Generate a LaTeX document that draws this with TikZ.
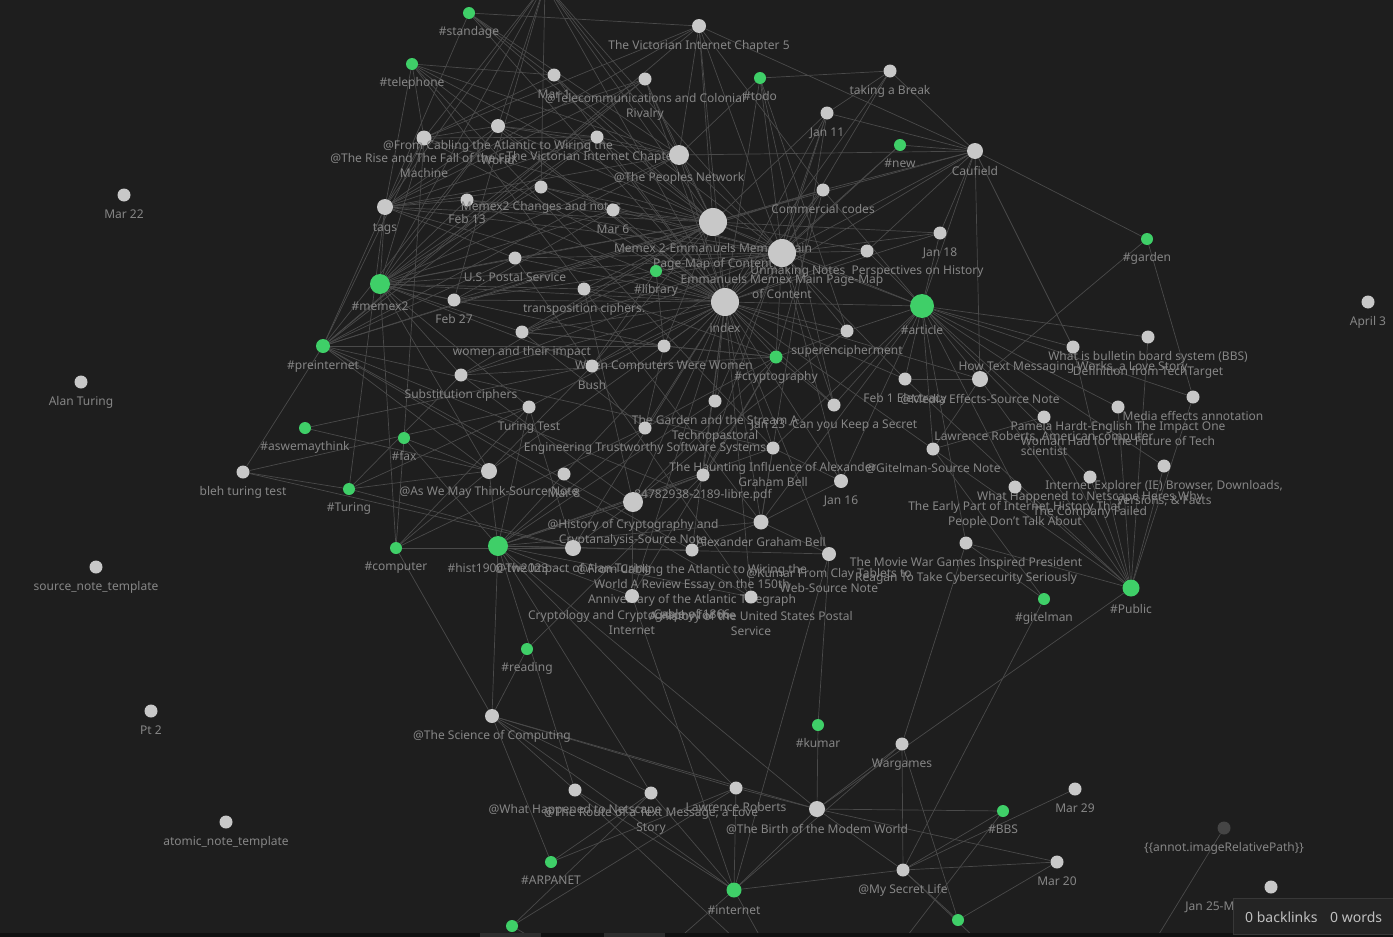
\documentclass[tikz,border=0pt]{standalone}
\usepackage{fontspec}
\setmainfont{Noto Sans}
\usetikzlibrary{calc}
\definecolor{bgc}{HTML}{1E1E1E}
\definecolor{edgec}{HTML}{4A4A4A}
\definecolor{nodec}{HTML}{C8C8C8}
\definecolor{tagc}{HTML}{3FCF68}
\definecolor{labc}{HTML}{868686}
\definecolor{darkc}{HTML}{454545}
\definecolor{stripc}{HTML}{111111}
\definecolor{tabc}{HTML}{2E2E2E}
\definecolor{boxc}{HTML}{242424}
\definecolor{boxline}{HTML}{383838}
\definecolor{boxtext}{HTML}{C0C0C0}
\pgfdeclarelayer{back}
\pgfdeclarelayer{edges}
\pgfsetlayers{back,edges,main}
\tikzset{
  dot/.style={circle, inner sep=0pt, draw=none},
  lab/.style={text=labc, font=\fontsize{12}{14}\selectfont, inner sep=0pt, anchor=base},
  edge/.style={draw=edgec, line width=0.7pt},
}
\newcommand\GN[6]{%
  \node[dot, fill=#5, minimum size=#4*2pt] (#1) at (#2,#3) {};
  \foreach \t [count=\k] in {#6} {\node[lab] at ($(#1)+(0,#4+16.5+15*\k-15)$) {\t};}
}
\begin{document}
\begin{tikzpicture}[x=1pt,y=-1pt]
\useasboundingbox (0,0) rectangle (1393,937);
\begin{pgfonlayer}{back}
\fill[bgc] (0,0) rectangle (1393,937);
\end{pgfonlayer}

\GN{stand}{469}{13}{6}{tagc}{\#standage}
\coordinate (topx) at (545,-16);
\GN{vic5}{699}{26}{7}{nodec}{The Victorian Internet Chapter 5}
\GN{tele}{412}{64}{6}{tagc}{\#telephone}
\GN{mar1}{554}{75}{6.5}{nodec}{Mar 1}
\GN{telecom}{645}{79}{6.5}{nodec}{@Telecommunications and Colonial,Rivalry}
\GN{todo}{760}{78}{6}{tagc}{\#todo}
\GN{brk}{890}{71}{6.5}{nodec}{taking a Break}
\GN{jan11}{827}{113}{6.5}{nodec}{Jan 11}
\GN{new}{900}{145}{6}{tagc}{\#new}
\GN{cauf}{975}{151}{8}{nodec}{Caufield}
\GN{rise}{424}{138}{7.5}{nodec}{@The Rise and The Fall of the Fax,Machine}
\GN{fromc}{498}{126}{7}{nodec}{@From Cabling the Atlantic to Wiring the,World}
\GN{vic1}{597}{137}{6.5}{nodec}{The Victorian Internet Chapter 1}
\GN{peop}{679}{155}{10}{nodec}{@The Peoples Network}
\GN{mar22}{124}{195}{6.5}{nodec}{Mar 22}
\GN{tags}{385}{207}{8}{nodec}{tags}
\GN{feb13}{467}{200}{6.5}{nodec}{Feb 13}
\GN{mxch}{541}{187}{6.5}{nodec}{Memex2 Changes and notes}
\GN{mar6}{613}{210}{6.5}{nodec}{Mar 6}
\GN{comm}{823}{190}{6.5}{nodec}{Commercial codes}
\GN{memexA}{713}{222}{14}{nodec}{Memex 2-Emmanuels Memex Main,Page-Map of Content}
\GN{jan18}{940}{233}{6.5}{nodec}{Jan 18}
\GN{unmk}{867}{251}{6.5}{nodec}{Unmaking Notes\ \ Perspectives on History}
\GN{memexB}{782}{253}{14}{nodec}{Emmanuels Memex Main Page-Map,of Content}
\GN{garden}{1147}{239}{6}{tagc}{\#garden}
\GN{usps}{515}{258}{6.5}{nodec}{U.S. Postal Service}
\GN{lib}{656}{271}{6}{tagc}{\#library}
\GN{memex2}{380}{284}{10}{tagc}{\#memex2}
\GN{trans}{584}{289}{6.5}{nodec}{transposition ciphers.}
\GN{feb27}{454}{300}{6.5}{nodec}{Feb 27}
\GN{index}{725}{302}{14}{nodec}{index}
\GN{article}{922}{306}{12}{tagc}{\#article}
\GN{april3}{1368}{302}{6.5}{nodec}{April 3}
\GN{women}{522}{332}{6.5}{nodec}{women and their impact}
\GN{super}{847}{331}{6.5}{nodec}{superencipherment}
\GN{bbs}{1148}{337}{6.5}{nodec}{What is bulletin board system (BBS),Definition from TechTarget}
\GN{prein}{323}{346}{7}{tagc}{\#preinternet}
\GN{wcww}{664}{346}{6.5}{nodec}{When Computers Were Women}
\GN{htm}{1073}{347}{6.5}{nodec}{{How Text Messaging Works, a Love Story}}
\GN{crypto}{776}{357}{6.5}{tagc}{\#cryptography}
\GN{bush}{592}{366}{6.5}{nodec}{Bush}
\GN{subst}{461}{375}{6.5}{nodec}{Substitution ciphers}
\GN{feb1}{905}{379}{6.5}{nodec}{Feb 1 Electracy}
\GN{media}{980}{379}{8}{nodec}{@Media Effects-Source Note}
\GN{aturing}{81}{382}{6.5}{nodec}{Alan Turing}
\GN{meda}{1193}{397}{6.5}{nodec}{Media effects annotation}
\GN{gst}{715}{401}{6.5}{nodec}{The Garden and the Stream A,Technopastoral}
\GN{jan23}{834}{405}{6.5}{nodec}{Jan 23 -Can you Keep a Secret}
\GN{pam}{1118}{407}{6.5}{nodec}{Pamela Hardt-English The Impact One,Woman Had for the Future of Tech}
\GN{ttest}{529}{407}{6.5}{nodec}{Turing Test}
\GN{lrA}{1044}{417}{6.5}{nodec}{{Lawrence Roberts, American computer},scientist}
\GN{aswmt}{305}{428}{6}{tagc}{\#aswemaythink}
\GN{eng}{645}{428}{6.5}{nodec}{Engineering Trustworthy Software Systems}
\GN{fax}{404}{438}{6}{tagc}{\#fax}
\GN{haunt}{773}{448}{6.5}{nodec}{The Haunting Influence of Alexander,Graham Bell}
\GN{gitsn}{933}{449}{6.5}{nodec}{@Gitelman-Source Note}
\GN{ie}{1164}{466}{6.5}{nodec}{{Internet Explorer (IE) Browser, Downloads,},{Versions, \& Facts}}
\GN{awmt}{489}{471}{8}{nodec}{@As We May Think-Source Note}
\GN{mar8}{564}{474}{6.5}{nodec}{Mar 8}
\GN{bleh}{243}{472}{6.5}{nodec}{bleh turing test}
\GN{pdf}{703}{475}{6.5}{nodec}{84782938-2189-libre.pdf}
\GN{whn}{1090}{477}{6.5}{nodec}{What Happened to Netscape Heres Why,The Company Failed}
\GN{jan16}{841}{481}{7}{nodec}{Jan 16}
\GN{early}{1015}{487}{6.5}{nodec}{The Early Part of Internet History That,People Don't Talk About}
\GN{Turing}{349}{489}{6}{tagc}{\#Turing}
\GN{hist}{633}{502}{10}{nodec}{@History of Cryptography and,Cryptanalysis-Source Note}
\GN{agb}{761}{522}{7.5}{nodec}{Alexander Graham Bell}
\GN{movie}{966}{543}{6.5}{nodec}{The Movie War Games Inspired President,Reagan To Take Cybersecurity Seriously}
\GN{h1900}{498}{546}{10}{tagc}{\#hist1900-tw2023}
\GN{comp}{396}{548}{6}{tagc}{\#computer}
\GN{impact}{573}{548}{8}{nodec}{@The Impact of Alan Turing}
\GN{fromc2}{692}{550}{6.5}{nodec}{@From Cabling the Atlantic to Wiring the,World A Review Essay on the 150th,Anniversary of the Atlantic Telegraph,Cable of 1866}
\GN{kumarsn}{829}{554}{7}{nodec}{@Kumar From Clay Tablets to,Web-Source Note}
\GN{snt}{96}{567}{6.5}{nodec}{source\_note\_template}
\GN{public}{1131}{588}{8.5}{tagc}{\#Public}
\GN{cryptol}{632}{596}{7}{nodec}{Cryptology and Cryptography for the,Internet}
\GN{postal}{751}{597}{6.5}{nodec}{A History of the United States Postal,Service}
\GN{gitel}{1044}{599}{6}{tagc}{\#gitelman}
\GN{reading}{527}{649}{6}{tagc}{\#reading}
\GN{pt2}{151}{711}{6.5}{nodec}{Pt 2}
\GN{sci}{492}{716}{7}{nodec}{@The Science of Computing}
\GN{kumar}{818}{725}{6}{tagc}{\#kumar}
\GN{warg}{902}{744}{6.5}{nodec}{Wargames}
\GN{lr}{736}{788}{6.5}{nodec}{Lawrence Roberts}
\GN{mar29}{1075}{789}{6.5}{nodec}{Mar 29}
\GN{whn2}{575}{790}{6.5}{nodec}{@What Happened to Netscape}
\GN{route}{651}{793}{6.5}{nodec}{{@The Route of a Text Message, a Love},Story}
\GN{birth}{817}{809}{8}{nodec}{@The Birth of the Modem World}
\GN{BBS}{1003}{811}{6}{tagc}{\#BBS}
\GN{atomic}{226}{822}{6.5}{nodec}{atomic\_note\_template}
\GN{annot}{1224}{828}{6.5}{darkc}{\{\{annot.imageRelativePath\}\}}
\GN{arpa}{551}{862}{6}{tagc}{\#ARPANET}
\GN{mar20}{1057}{862}{6.5}{nodec}{Mar 20}
\GN{secret}{903}{870}{6.5}{nodec}{@My Secret Life}
\GN{jan25}{1271}{887}{6.5}{nodec}{Jan 25-Media Archaeology pt 1}
\GN{internet}{734}{890}{7.5}{tagc}{\#internet}
\node[dot, fill=tagc, minimum size=12pt] (g1) at (958,920) {};
\node[dot, fill=tagc, minimum size=12pt] (g2) at (512,926) {};
\coordinate (annotEnd) at (1140,965);
\coordinate (b1) at (620,990);
\coordinate (b2) at (790,990);
\coordinate (b3) at (885,965);
\coordinate (b4) at (1030,990);

\begin{pgfonlayer}{edges}
\foreach \a/\b in {
index/memex2, index/tags, index/feb13, index/feb27, index/usps, index/trans, index/women, index/bush, index/wcww, index/subst, index/ttest, index/lib, index/mar6, index/mxch, index/peop, index/memexA, index/memexB, index/comm, index/jan11, index/todo, index/jan18, index/unmk, index/article, index/super, index/crypto, index/feb1, index/jan23, index/gst, index/eng, index/haunt, index/pdf, index/jan16, index/hist, index/agb, index/kumarsn, index/fromc2, index/cauf, index/vic5, index/vic1, index/telecom, index/mar1, index/fromc, index/rise, index/awmt, index/mar8, index/impact, index/media, index/gitsn, index/postal, index/cryptol, index/new, index/brk, index/stand, index/topx,
memexA/memex2, memexA/tags, memexA/feb13, memexA/mxch, memexA/mar6, memexA/usps, memexA/trans, memexA/feb27, memexA/women, memexA/peop, memexA/vic1, memexA/vic5, memexA/telecom, memexA/mar1, memexA/fromc, memexA/rise, memexA/comm, memexA/jan11, memexA/cauf, memexA/unmk, memexA/jan18, memexA/article, memexA/bush, memexA/subst, memexA/wcww, memexA/lib, memexA/stand, memexA/tele, memexA/memexB, memexA/topx, memexA/prein,
memexB/memex2, memexB/tags, memexB/feb13, memexB/mxch, memexB/mar6, memexB/usps, memexB/feb27, memexB/women, memexB/trans, memexB/bush, memexB/peop, memexB/vic5, memexB/comm, memexB/jan11, memexB/brk, memexB/cauf, memexB/jan18, memexB/unmk, memexB/article, memexB/super, memexB/crypto, memexB/lib, memexB/todo, memexB/new, memexB/feb1, memexB/jan23, memexB/gst, memexB/jan16, memexB/stand, memexB/topx, memexB/subst,
memex2/tags, memex2/feb13, memex2/mxch, memex2/rise, memex2/fromc, memex2/usps, memex2/feb27, memex2/trans, memex2/women, memex2/subst, memex2/bush, memex2/mar6, memex2/awmt, memex2/ttest, memex2/peop, memex2/vic1, memex2/topx, memex2/wcww, memex2/comp,
prein/rise, prein/fromc, prein/vic1, prein/peop, prein/telecom, prein/usps, prein/comm, prein/bleh, prein/postal, prein/fromc2, prein/agb, prein/haunt, prein/tags, prein/wcww, prein/awmt, prein/vic5,
article/htm, article/bbs, article/media, article/meda, article/pam, article/lrA, article/ie, article/whn, article/early, article/movie, article/gitsn, article/feb1, article/jan23, article/super, article/cauf, article/jan18, article/unmk, article/comm, article/jan16, article/agb, article/haunt,
public/htm, public/bbs, public/media, public/meda, public/pam, public/lrA, public/ie, public/whn, public/early, public/movie, public/gitsn, public/birth, public/feb1,
garden/cauf, garden/meda, garden/media,
cauf/vic5, cauf/brk, cauf/peop, cauf/media, cauf/comm, cauf/jan18, cauf/unmk, cauf/new, cauf/jan11, cauf/htm,
stand/vic5, stand/tags, stand/peop, topx/rise, topx/fromc, topx/mxch, topx/peop, topx/feb27, topx/tags,
vic5/peop, vic5/rise, vic5/tags, vic5/comm,
tele/tags, tele/rise, tele/mar1, tele/peop, tele/agb, tele/haunt, tele/index,
mar1/rise, telecom/peop, telecom/tags, telecom/memex2,
todo/brk, todo/jan23, todo/super, todo/peop, brk/jan11, jan11/agb, jan11/pdf,
rise/tags, rise/fax, rise/fromc, rise/vic1, fromc/peop, fromc/vic1, fromc/telecom, fromc/tags,
vic1/peop, vic1/tags, peop/tags, tags/feb13, tags/mxch, tags/usps, tags/Turing, mar6/feb27, usps/postal,
lib/women, lib/wcww, lib/bush, trans/crypto, trans/hist, women/wcww, women/eng, women/crypto,
super/crypto, super/hist, wcww/crypto, wcww/eng,
crypto/subst, crypto/hist, crypto/cryptol, crypto/jan23, crypto/comm, crypto/eng, crypto/pdf,
bush/awmt, bush/aswmt, subst/hist, subst/Turing, feb1/media, media/gitsn,
ttest/Turing, ttest/bleh, ttest/impact, ttest/h1900, aswmt/awmt, eng/h1900,
fax/comp, fax/h1900, fax/awmt, haunt/agb, haunt/jan16, gitsn/gitel, gitsn/lrA,
awmt/h1900, awmt/Turing, awmt/comp, mar8/h1900, bleh/Turing, bleh/impact,
pdf/hist, pdf/h1900, pdf/reading, jan16/agb, Turing/impact,
hist/h1900, hist/cryptol, hist/impact, agb/h1900, agb/kumarsn, agb/fromc2,
movie/warg, movie/gitel,
h1900/impact, h1900/fromc2, h1900/cryptol, h1900/postal, h1900/kumarsn, h1900/sci, h1900/whn2, h1900/route, h1900/lr, h1900/birth, h1900/gst, h1900/haunt,
comp/sci, comp/impact, comp/ttest, comp/eng,
kumarsn/kumar, kumarsn/internet, cryptol/internet, gitel/secret, reading/sci,
sci/arpa, sci/lr, sci/internet, sci/whn2, sci/route, sci/birth,
kumar/birth, warg/birth, warg/g1, warg/secret, warg/internet,
lr/arpa, lr/g2, lr/internet, lr/birth, whn2/internet, route/internet, route/g2, route/arpa,
birth/internet, birth/BBS, birth/mar20, birth/secret,
BBS/secret, BBS/b3, mar29/secret, mar20/secret, mar20/g1, secret/g1, secret/internet,
annot/annotEnd, internet/b1, internet/b2, g2/b1, secret/b4, whn2/b2}
  \draw[edge] (\a) -- (\b);
\end{pgfonlayer}

% bottom bar and status box
\fill[stripc] (0,933) rectangle (1393,937);
\fill[tabc] (480,933) rectangle (541,937);
\fill[tabc] (604,933) rectangle (665,937);
\node[draw=boxline, fill=boxc, line width=0.8pt, minimum width=170pt, minimum height=36pt, anchor=north west, inner sep=0pt] (status) at (1233,898) {};
\node[text=boxtext, font=\fontsize{14}{16}\selectfont, inner sep=0pt, anchor=base west] (backl) at (1245,922) {0 backlinks};
\node[text=boxtext, font=\fontsize{14}{16}\selectfont, inner sep=0pt, anchor=base west] (words) at (1330,922) {0 words};
\end{tikzpicture}
\end{document}
